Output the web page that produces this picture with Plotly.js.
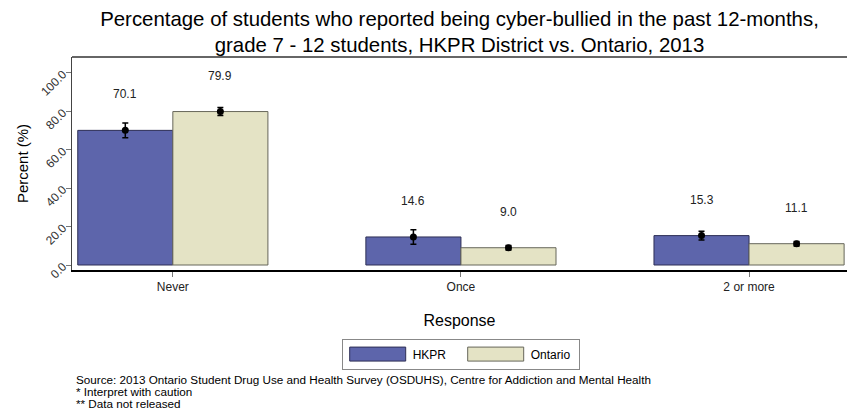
<!DOCTYPE html>
<html>
<head>
<meta charset="utf-8">
<script src="https://cdn.plot.ly/plotly-3.0.1.min.js"></script>
<style>html,body{margin:0;padding:0;background:#fff;}#chart{width:847px;height:413px;}</style>
</head>
<body>
<div id="chart"></div>
<script>
const categories = ["Never", "Once", "2 or more"];
const seriesNames = ["HKPR", "Ontario"];
const hkprValues = [70.1, 14.6, 15.3];
const ontarioValues = [79.9, 9.0, 11.1];
const hkprErrors = [3.9, 3.8, 2.3];
const ontarioErrors = [2.1, 1.2, 1.2];
const yTickValues = [0, 20, 40, 60, 80, 100];
const titleLines = ["Percentage of students who reported being cyber-bullied in the past 12-months,",
                    "grade 7 - 12 students, HKPR District vs. Ontario, 2013"];
const footnotes = ["Source: 2013 Ontario Student Drug Use and Health Survey (OSDUHS), Centre for Addiction and Mental Health",
                   "* Interpret with caution",
                   "** Data not released"];

const FONT = "Liberation Sans, Arial, sans-serif";
const idx = categories.map((c, i) => i);
const half = 0.165;
const fills = ["#5d65ab", "#e4e3c5"];
const borders = ["#2e2f55", "#66665a"];
const values = [hkprValues, ontarioValues];
const errors = [hkprErrors, ontarioErrors];

const traces = [];
values.forEach((vals, s) => {
  traces.push({
    type: "bar", name: seriesNames[s], x: idx, y: vals,
    offsetgroup: String(s),
    marker: {color: fills[s], line: {color: borders[s], width: 1}},
    hoverinfo: "y"
  });
});
values.forEach((vals, s) => {
  const off = s === 0 ? -half : half;
  traces.push({
    type: "scatter", mode: "markers", showlegend: false,
    x: idx.map(i => i + off), y: vals,
    marker: {color: "#000", size: 7},
    error_y: {type: "data", array: errors[s], visible: true, color: "#000", thickness: 1.5, width: 3},
    hoverinfo: "skip"
  });
});

const annotations = [];
values.forEach((vals, s) => {
  const off = s === 0 ? -half : half;
  vals.forEach((v, i) => {
    annotations.push({
      x: i + off, y: v, xref: "x", yref: "y", text: v.toFixed(1), showarrow: false,
      yshift: 36, font: {family: FONT, size: 12, color: "#222"}
    });
  });
});
footnotes.forEach((t, k) => {
  annotations.push({
    xref: "paper", yref: "paper", x: 0, y: 0, xshift: 2, yshift: -109 - 12 * k,
    xanchor: "left", yanchor: "middle", align: "left",
    text: t, showarrow: false, font: {family: FONT, size: 11.7, color: "#000"}
  });
});

const layout = {
  width: 847, height: 413,
  margin: {l: 72, r: 0, t: 57, b: 143},
  paper_bgcolor: "#fff", plot_bgcolor: "#fff",
  font: {family: FONT, color: "#222"},
  title: {text: titleLines.join("<br>"), x: 0.5, xref: "paper", xanchor: "center",
          yref: "container", y: 0.938, yanchor: "middle",
          font: {family: FONT, size: 20.4, color: "#000"}},
  barmode: "group", bargap: 0.34, bargroupgap: 0,
  showlegend: true,
  legend: {
    orientation: "h", x: 0.348, y: -0.322, xanchor: "left", yanchor: "top",
    bgcolor: "#fff", bordercolor: "#888", borderwidth: 1,
    itemwidth: 60, entrywidth: 43, entrywidthmode: "pixels",
    font: {family: FONT, size: 12, color: "#000"},
    traceorder: "normal"
  },
  xaxis: {
    range: [-0.35, 2.34], tickvals: idx, ticktext: categories,
    showgrid: false, zeroline: false, showline: true, linecolor: "#000", linewidth: 1.5,
    ticks: "outside", ticklen: 5, tickcolor: "#777", tickwidth: 1,
    tickfont: {family: FONT, size: 12, color: "#222"},
    title: {text: "Response", font: {family: FONT, size: 16, color: "#000"}, standoff: 22}
  },
  yaxis: {
    range: [-2.6, 108.3], tickvals: yTickValues, ticktext: yTickValues.map(v => v.toFixed(1)),
    showgrid: false, zeroline: false, showline: true, linecolor: "#444", linewidth: 1.5,
    ticks: "outside", ticklen: 5, tickcolor: "#777", tickwidth: 1, tickangle: -45,
    tickfont: {family: FONT, size: 12, color: "#333"},
    title: {text: "Percent (%)", font: {family: FONT, size: 15, color: "#000"}, standoff: 6}
  },
  shapes: [{type: "line", xref: "paper", yref: "paper", x0: 0, x1: 1, y0: 1, y1: 1, line: {color: "#666", width: 2}}],
  annotations: annotations
};

Plotly.newPlot("chart", traces, layout, {displayModeBar: false, staticPlot: true}).then(gd => {
  gd.querySelectorAll(".legend .legendpoints path").forEach(p => {
    p.setAttribute("d", "M-28,-7H28V7H-28Z");
  });
});
</script>
</body>
</html>
